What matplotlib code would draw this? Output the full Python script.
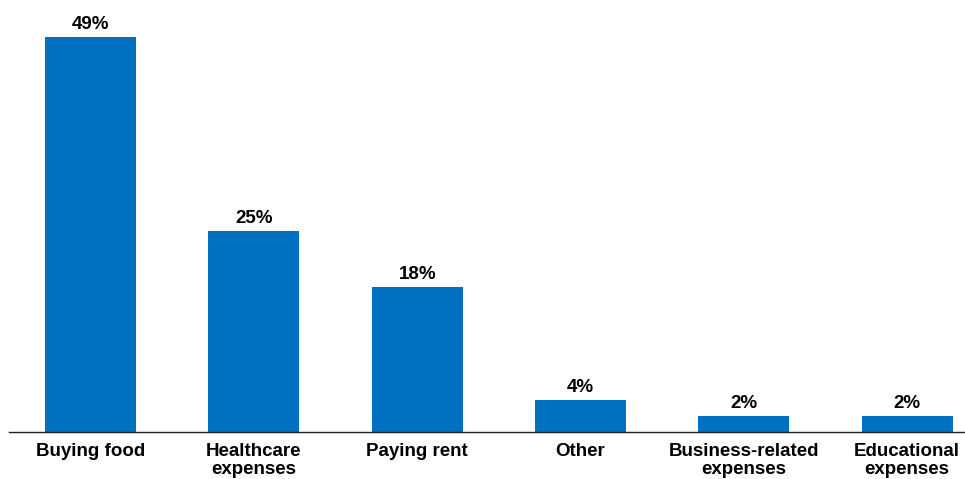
import matplotlib.pyplot as plt

plt.rcParams['font.family'] = ['Liberation Sans', 'DejaVu Sans']

# Share of respondents by main use of funds
categories = ["Buying food", "Healthcare\nexpenses", "Paying rent", "Other",
              "Business-related\nexpenses", "Educational\nexpenses"]
shares = [49, 25, 18, 4, 2, 2]

fig = plt.figure(figsize=(9.65, 4.79), dpi=100)
ax = fig.add_axes([9 / 965, 47 / 479, 956 / 965, 432 / 479])

x = range(len(categories))
bars = ax.bar(x, shares, width=0.557, color="#0070C0")

for b, v in zip(bars, shares):
    ax.text(b.get_x() + b.get_width() / 2, v + 0.45, f"{v}%",
            ha="center", va="bottom", fontsize=13.5, fontweight="bold")

ax.set_xlim(-0.5, 5.355)
ax.set_ylim(0, 53.6)
ax.set_xticks(list(x))
ax.set_xticklabels(categories, fontsize=13.5, fontweight="bold", linespacing=1.1)
ax.tick_params(axis="x", length=0, pad=8)
ax.set_yticks([])
for s in ["top", "right", "left"]:
    ax.spines[s].set_visible(False)
ax.spines["bottom"].set_color("#222222")
ax.spines["bottom"].set_linewidth(1.0)

fig.savefig("out.png", dpi=100)
